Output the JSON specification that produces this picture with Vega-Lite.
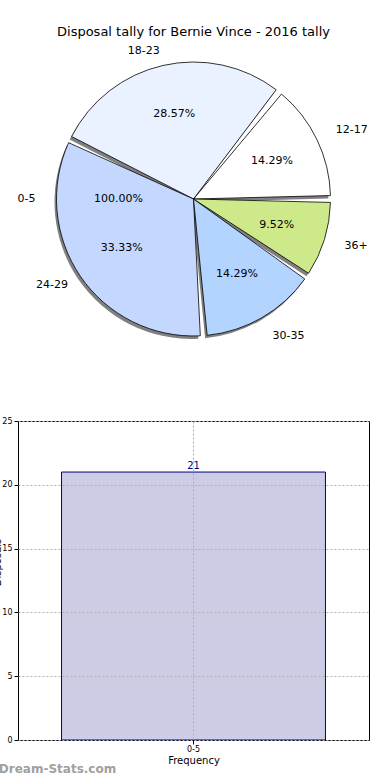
{
  "$schema": "https://vega.github.io/schema/vega-lite/v6.json",
  "padding": {"left": -8, "top": 25, "right": 0, "bottom": 0},
  "spacing": 64,
  "config": {"font": "DejaVu Sans", "view": {"stroke": null}},
  "datasets": {
    "pie": [
      {"group": "12-17", "pct": 14.29, "label": "14.29%", "side": "right"},
      {"group": "18-23", "pct": 28.57, "label": "28.57%", "side": "left"},
      {"group": "24-29", "pct": 33.33, "label": "33.33%", "side": "left"},
      {"group": "30-35", "pct": 14.29, "label": "14.29%", "side": "right"},
      {"group": "36+", "pct": 9.52, "label": "9.52%", "side": "right"}
    ],
    "base": [{"group": "0-5", "pct": 100, "label": "100.00%"}],
    "bars": [{"group": "0-5", "count": 21}]
  },
  "vconcat": [
    {
      "title": {"text": "Disposal tally for Bernie Vince - 2016 tally", "fontSize": 13, "fontWeight": "normal", "color": "#000000", "offset": 0},
      "width": 351,
      "height": 306,
      "view": {"stroke": null},
      "layer": [
        {
          "data": {"name": "pie"},
          "mark": {"type": "arc", "outerRadius": 137, "padAngle": 0.05, "fill": "#808080", "xOffset": -2, "yOffset": 3},
          "encoding": {
            "theta": {"field": "pct", "type": "quantitative", "stack": true, "scale": {"domain": [0, 100], "range": [1.5708, -4.7124]}},
            "order": {"field": "group", "type": "ordinal"}
          }
        },
        {
          "data": {"name": "pie"},
          "mark": {"type": "arc", "outerRadius": 137, "padAngle": 0.05, "stroke": "#000000", "strokeWidth": 0.8},
          "encoding": {
            "theta": {"field": "pct", "type": "quantitative", "stack": true},
            "order": {"field": "group", "type": "ordinal"},
            "color": {"field": "group", "type": "nominal", "legend": null,
              "scale": {"domain": ["12-17", "18-23", "24-29", "30-35", "36+"], "range": ["#ffffff", "#eaf1ff", "#c4d8ff", "#b2d4ff", "#cee98a"]}}
          }
        },
        {
          "data": {"name": "pie"},
          "mark": {"type": "text", "radius": 87, "fontSize": 11, "color": "#000000"},
          "encoding": {
            "theta": {"field": "pct", "type": "quantitative", "stack": true},
            "order": {"field": "group", "type": "ordinal"},
            "text": {"field": "label"}
          }
        },
        {
          "data": {"name": "pie"},
          "mark": {"type": "text", "radius": 158, "fontSize": 11, "color": "#000000", "align": "left"},
          "encoding": {
            "theta": {"field": "pct", "type": "quantitative", "stack": true},
            "order": {"field": "group", "type": "ordinal"},
            "text": {"condition": {"test": "datum.side == 'right'", "field": "group"}, "value": ""}
          }
        },
        {
          "data": {"name": "pie"},
          "mark": {"type": "text", "radius": 152, "fontSize": 11, "color": "#000000", "align": "right"},
          "encoding": {
            "theta": {"field": "pct", "type": "quantitative", "stack": true},
            "order": {"field": "group", "type": "ordinal"},
            "text": {"condition": {"test": "datum.side == 'left'", "field": "group"}, "value": ""}
          }
        },
        {
          "data": {"name": "base"},
          "mark": {"type": "text", "radius": 75, "fontSize": 11, "color": "#000000"},
          "encoding": {
            "theta": {"field": "pct", "type": "quantitative", "stack": true},
            "text": {"field": "label"}
          }
        },
        {
          "data": {"name": "base"},
          "mark": {"type": "text", "radius": 158, "fontSize": 11, "color": "#000000", "align": "right"},
          "encoding": {
            "theta": {"field": "pct", "type": "quantitative", "stack": true},
            "text": {"field": "group"}
          }
        }
      ]
    },
    {
      "data": {"name": "bars"},
      "width": 351,
      "height": 319,
      "view": {"stroke": "#000000", "strokeWidth": 1},
      "title": {"text": "Dream-Stats.com", "orient": "bottom", "anchor": "start", "fontSize": 12, "fontWeight": "bold", "color": "#a0a0a0", "offset": -1, "dx": 6, "frame": "bounds"},
      "encoding": {
        "x": {
          "field": "group", "type": "nominal",
          "scale": {"paddingInner": 0, "paddingOuter": 0.165},
          "axis": {"title": "Frequency", "titleFontSize": 10, "titleFontWeight": "normal", "titleColor": "#000000", "titlePadding": 2,
            "labelFontSize": 8, "labelAngle": 0, "labelColor": "#000000", "labelPadding": 1, "domain": false, "tickSize": 4, "tickColor": "#000000",
            "grid": true, "gridDash": [2, 2], "gridColor": "#b0b0b0", "zindex": 1}
        },
        "y": {
          "field": "count", "type": "quantitative",
          "scale": {"domain": [0, 25], "nice": false},
          "axis": {"values": [0, 5, 10, 15, 20, 25], "title": "Disposals", "titleFontSize": 10, "titleFontWeight": "normal", "titleColor": "#000000", "titlePadding": -1, "titleY": 141,
            "labelFontSize": 8, "labelColor": "#000000", "labelPadding": 2, "domain": false, "tickSize": 4, "tickColor": "#000000",
            "grid": true, "gridDash": [2, 2], "gridColor": "#b0b0b0", "zindex": 1}
        }
      },
      "layer": [
        {"mark": {"type": "bar", "fill": "#ccccE5", "stroke": "#000080", "strokeWidth": 1}},
        {"mark": {"type": "text", "dy": -6, "color": "#000080", "fontSize": 10}, "encoding": {"text": {"field": "count", "type": "quantitative"}}}
      ]
    }
  ]
}
